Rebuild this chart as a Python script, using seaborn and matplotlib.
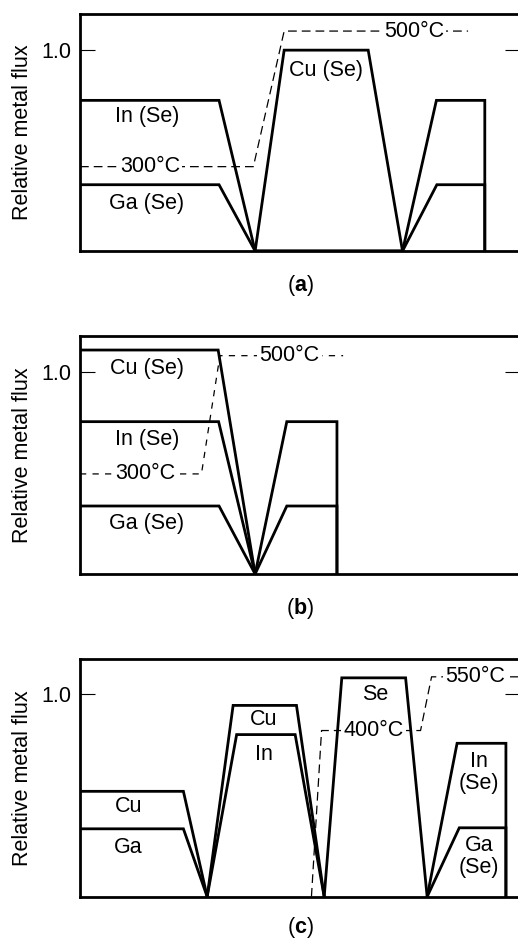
import matplotlib
matplotlib.use("Agg")
import matplotlib.pyplot as plt
import seaborn as sns
import pandas as pd

sns.set_theme(style="white")
plt.rcParams['font.family'] = ['Liberation Sans', 'DejaVu Sans']
plt.rcParams['mathtext.fontset'] = 'custom'
plt.rcParams['mathtext.rm'] = 'Liberation Sans'
plt.rcParams['mathtext.bf'] = 'Liberation Sans:bold'

# ---------------- data ----------------
# panel (a)
a_in_x = [0, 31.6, 39.8, 73.3, 81.0, 92.0, 92.0]
a_in_y = [0.75, 0.75, 0, 0, 0.75, 0.75, 0]
a_ga_x = [0, 31.6, 39.8, 73.3, 81.1, 92.0, 92.0]
a_ga_y = [0.33, 0.33, 0, 0, 0.33, 0.33, 0]
a_cu_x = [39.8, 46.4, 65.5, 73.3]
a_cu_y = [0, 1.0, 1.0, 0]
a_temp_x = [0, 39.4, 46.4, 88.2]
a_temp_y = [0.42, 0.42, 1.095, 1.095]

# panel (b)
b_cu_x = [0, 31.4, 39.8]
b_cu_y = [1.11, 1.11, 0]
b_in_x = [0, 31.5, 39.8, 47.0, 58.4, 58.4]
b_in_y = [0.755, 0.755, 0, 0.755, 0.755, 0]
b_ga_x = [0, 31.6, 39.8, 47.0, 58.4, 58.4]
b_ga_y = [0.337, 0.337, 0, 0.337, 0.337, 0]
b_temp_x = [0, 27.6, 31.8, 59.8]
b_temp_y = [0.496, 0.496, 1.082, 1.082]

# panel (c)
c_cu1_x = [0, 23.5, 28.9]
c_cu1_y = [0.52, 0.52, 0]
c_ga1_x = [0, 23.5, 28.9]
c_ga1_y = [0.335, 0.335, 0]
c_cu2_x = [28.9, 34.8, 49.2, 55.5]
c_cu2_y = [0, 0.944, 0.944, 0]
c_in2_x = [28.9, 35.6, 48.9, 55.5]
c_in2_y = [0, 0.80, 0.80, 0]
c_se_x = [55.5, 59.5, 74.0, 78.9]
c_se_y = [0, 1.08, 1.08, 0]
c_in3_x = [78.9, 85.7, 96.8, 96.8]
c_in3_y = [0, 0.757, 0.757, 0]
c_ga3_x = [78.9, 86.2, 96.8, 96.8]
c_ga3_y = [0, 0.34, 0.34, 0]
c_temp_x = [52.6, 54.9, 77.4, 79.9, 100]
c_temp_y = [0, 0.82, 0.82, 1.085, 1.085]

# labels: (text, x, y)
a_labels = [("In (Se)", 15.3, 0.668), ("Ga (Se)", 15.2, 0.237), ("Cu (Se)", 55.9, 0.90)]
a_temps = [("300°C", 15.9, 0.42), ("500°C", 75.9, 1.095)]
b_labels = [("Cu (Se)", 15.2, 1.02), ("In (Se)", 15.2, 0.668), ("Ga (Se)", 15.2, 0.251)]
b_temps = [("300°C", 14.8, 0.496), ("500°C", 47.6, 1.082)]
c_labels = [("Cu", 11.0, 0.447), ("Ga", 11.0, 0.244), ("Cu", 41.7, 0.872),
            ("In", 41.7, 0.70), ("Se", 67.0, 1.0), ("In\n(Se)", 90.7, 0.613),
            ("Ga\n(Se)", 90.7, 0.20)]
c_temps = [("400°C", 66.7, 0.82), ("550°C", 89.8, 1.085)]

panels = [
    dict(solid=[(a_in_x, a_in_y), (a_ga_x, a_ga_y), (a_cu_x, a_cu_y)],
         temp=(a_temp_x, a_temp_y), labels=a_labels, temps=a_temps,
         letter="a", pos=[80/518, 1-251/940, 440/518, 237/940], ytop=1.18, dash=(7, 4)),
    dict(solid=[(b_cu_x, b_cu_y), (b_in_x, b_in_y), (b_ga_x, b_ga_y)],
         temp=(b_temp_x, b_temp_y), labels=b_labels, temps=b_temps,
         letter="b", pos=[80/518, 1-574/940, 440/518, 238.3/940], ytop=1.181, dash=(5, 5)),
    dict(solid=[(c_cu1_x, c_cu1_y), (c_ga1_x, c_ga1_y), (c_cu2_x, c_cu2_y),
                (c_in2_x, c_in2_y), (c_se_x, c_se_y), (c_in3_x, c_in3_y), (c_ga3_x, c_ga3_y)],
         temp=(c_temp_x, c_temp_y), labels=c_labels, temps=c_temps,
         letter="c", pos=[80/518, 1-896.7/940, 440/518, 237.7/940], ytop=1.173, dash=(7, 4)),
]

fig = plt.figure(figsize=(5.18, 9.40), dpi=100)
FS = 15.5

for i, p in enumerate(panels):
    ax = fig.add_axes(p["pos"])
    tx, ty = p["temp"]
    sns.lineplot(data=pd.DataFrame({"x": tx, "y": ty}), x="x", y="y", ax=ax,
                 sort=False, estimator=None, color="black", lw=0.9,
                 linestyle=(0, p["dash"]), zorder=1)
    for sx, sy in p["solid"]:
        sns.lineplot(data=pd.DataFrame({"x": sx, "y": sy}), x="x", y="y", ax=ax,
                     sort=False, estimator=None, color="black", lw=2.0,
                     zorder=3, solid_joinstyle="miter")
    for t, x, y in p["labels"]:
        ax.text(x, y, t, ha="center", va="center", fontsize=FS, color="black",
                linespacing=1.05, zorder=4)
    for t, x, y in p["temps"]:
        ax.text(x, y, t, ha="center", va="center", fontsize=FS, color="black",
                zorder=2, bbox=dict(facecolor="white", edgecolor="none", pad=1.5))
    ax.set_xlim(0, 100)
    ax.set_ylim(0, p["ytop"])
    ax.set_xticks([])
    ax.set_yticks([1.0])
    ax.set_yticklabels(["1.0"])
    ax.tick_params(axis="y", direction="in", length=10.8, width=0.8, pad=6,
                   labelsize=FS, left=True, right=True, colors="black")
    for s in ax.spines.values():
        s.set_visible(True)
        s.set_linewidth(2.0)
        s.set_color("black")
    ax.set_xlabel("")
    ax.set_ylabel("Relative metal flux", fontsize=FS, labelpad=6, color="black")
    cap_y = -0.145 if i < 2 else -0.13
    ax.text(0.5, cap_y, r"($\mathbf{" + p["letter"] + r"}$)", transform=ax.transAxes,
            ha="center", va="center", fontsize=FS, color="black")

fig.savefig("out.png", dpi=100)
